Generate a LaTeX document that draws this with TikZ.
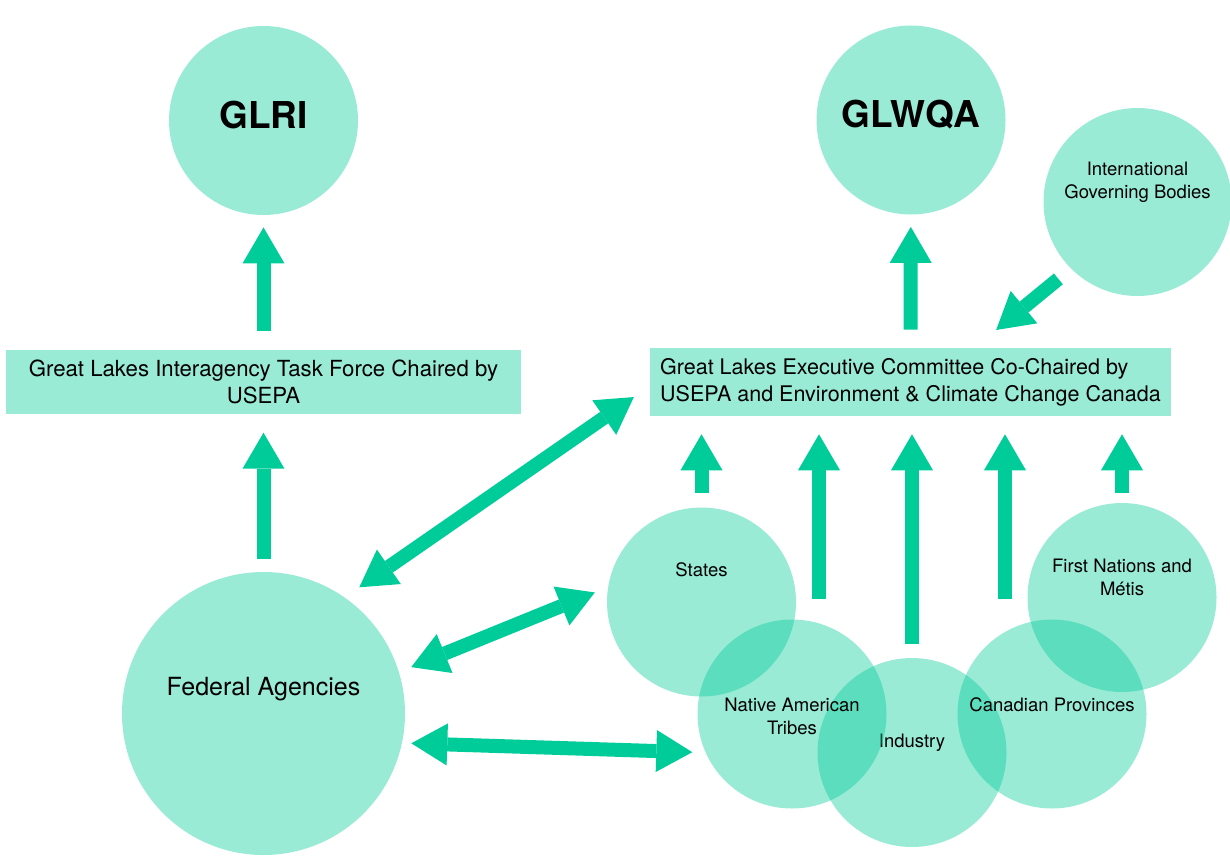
\documentclass[tikz,border=0pt]{standalone}
\usepackage{fontspec}
\setmainfont{TeX Gyre Heros}
\usetikzlibrary{arrows.meta, positioning}

\definecolor{leafgreen}{RGB}{0,204,153}

\begin{document}
\begin{tikzpicture}[
    x=0.5pt, y=-0.5pt,
    bubble/.style={circle, fill=leafgreen, fill opacity=0.4, minimum size=94.5pt, inner sep=0pt},
    bigbubble/.style={bubble, minimum size=141.5pt},
    panel/.style={rectangle, fill=leafgreen!40, minimum width=257.5pt, minimum height=32pt, inner sep=5pt, font=\fontsize{10.75}{13.5}\selectfont},
    title/.style={font=\fontsize{18.5}{22}\selectfont\bfseries},
    small/.style={font=\fontsize{9.25}{11.5}\selectfont, align=center},
    bigarrow/.style={draw=leafgreen, line width=7pt, -{Triangle[length=18pt, width=21pt, line width=0pt]}},
    twoway/.style={bigarrow, {Triangle[length=18pt, width=21pt, line width=0pt]}-{Triangle[length=18pt, width=21pt, line width=0pt]}}
]
    \useasboundingbox (0,0) rectangle (1230,856);

    % top row
    \node[bubble, label={[title, yshift=2.5pt]center:GLRI}] (glri) at (263.5,120.5) {};
    \node[bubble, label={[title, yshift=2.5pt]center:GLWQA}] (glwqa) at (911,120) {};
    \node[bubble, minimum size=94pt, label={[small, yshift=10pt]center:International\\Governing Bodies}] (intl) at (1137.5,202) {};

    % committees
    \node[panel, align=center, font=\fontsize{11.1}{13.8}\selectfont] (taskforce) at (263.5,382) {Great Lakes Interagency Task Force Chaired by\\USEPA};
    \node[panel, align=left] (exec) at (910.5,382) {Great Lakes Executive Committee Co-Chaired by\\USEPA and Environment \& Climate Change Canada};

    % partners
    \node[bigbubble, label={[font=\fontsize{12.5}{15}\selectfont, yshift=12pt]center:Federal Agencies}] (federal) at (263.5,713.5) {};
    \node[bubble, label={[small, yshift=4.75pt]center:Industry}] (industry) at (912,752.5) {};
    \node[bubble, label={[small, yshift=16pt]center:States}] (states) at (701.5,602) {};
    \node[bubble, label={[small, yshift=-1.25pt]center:Native American\\Tribes}] (tribes) at (792,714) {};
    \node[bubble, label={[small, yshift=4.5pt]center:Canadian Provinces}] (provinces) at (1052,714) {};
    \node[bubble, label={[small, yshift=10.25pt]center:First Nations and\\Métis}] (firstnations) at (1122,597.5) {};

    \coordinate (tribesfoot) at ([shift={(27,-20)}]tribes.north);
    \coordinate (provfoot) at ([shift={(-47,-20)}]provinces.north);

    % arrows
    \draw[bigarrow, shorten <=9pt, shorten >=6pt] (taskforce) -- (glri);
    \draw[bigarrow, shorten <=6.5pt, shorten >=9pt] (federal) -- (taskforce);
    \draw[bigarrow, shorten <=9pt, shorten >=6pt] (exec) -- (glwqa);
    \draw[bigarrow, shorten <=8pt, shorten >=14pt] (intl.225) -- ([xshift=32pt]exec.north);

    \draw[bigarrow, shorten <=7pt, shorten >=9pt] (states) -- (states |- exec.south);
    \draw[bigarrow, shorten >=9pt] (tribesfoot) -- (tribesfoot |- exec.south);
    \draw[bigarrow, shorten <=7pt, shorten >=9pt] (industry) -- (industry |- exec.south);
    \draw[bigarrow, shorten >=9pt] (provfoot) -- (provfoot |- exec.south);
    \draw[bigarrow, shorten <=5pt, shorten >=9pt] (firstnations) -- (firstnations |- exec.south);

    \draw[twoway, shorten <=8.75pt, shorten >=9.7pt] (federal.55) -- ([yshift=-2pt]exec.west);
    \draw[twoway, shorten <=6.5pt, shorten >=7pt] (federal.17) -- (states.171);
    \draw[twoway, shorten <=4.5pt, shorten >=6.5pt] (federal.348) -- (tribes.204);
\end{tikzpicture}
\end{document}
